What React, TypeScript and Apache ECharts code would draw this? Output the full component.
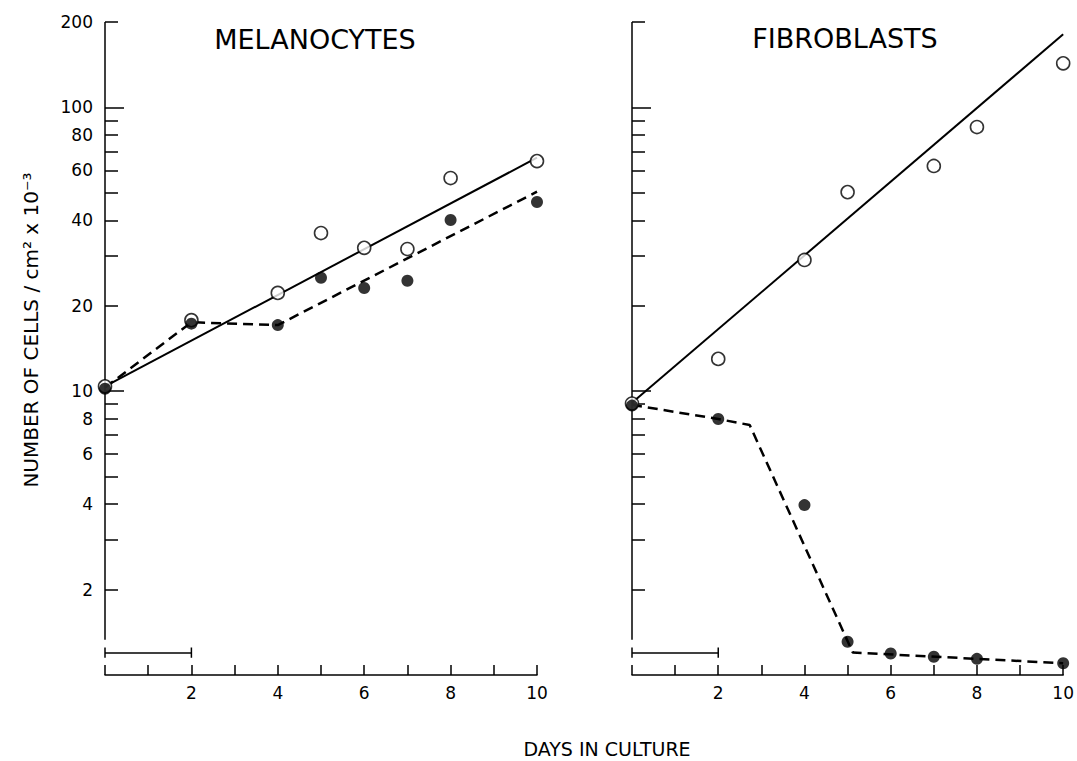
import { useEffect, useRef } from "react";
import * as echarts from "echarts";

// ---------- data ----------
const MEL_OPEN_DAYS = [0, 2, 4, 5, 6, 7, 8, 10];
const MEL_OPEN = [10.4, 17.8, 22.2, 36.1, 32.0, 31.7, 56.4, 64.7];
const MEL_FILLED_DAYS = [0, 2, 4, 5, 6, 7, 8, 10];
const MEL_FILLED = [10.2, 17.3, 17.1, 25.1, 23.1, 24.5, 40.1, 46.4];
const MEL_SOLID_DAYS = [0, 10];
const MEL_SOLID = [10.4, 66.5];
const MEL_DASHED_DAYS = [0, 2, 4, 10];
const MEL_DASHED = [10.3, 17.5, 17.1, 50.5];

const FIB_OPEN_DAYS = [0, 2, 4, 5, 7, 8, 10];
const FIB_OPEN = [9.05, 13.0, 29.0, 50.3, 62.2, 85.3, 143];
const FIB_FILLED_DAYS = [0, 2, 4, 5, 6, 7, 8, 10];
const FIB_FILLED = [8.9, 7.98, 3.97, 1.31, 1.19, 1.16, 1.14, 1.1];
const FIB_SOLID_DAYS = [0, 10];
const FIB_SOLID = [9.1, 181];
const FIB_DASHED_DAYS = [0, 2, 2.73, 5.12, 10];
const FIB_DASHED = [8.95, 7.98, 7.6, 1.2, 1.1];

const Y_LABELS = [2, 4, 6, 8, 10, 20, 40, 60, 80, 100, 200];
const Y_MINOR_TICKS = [2, 3, 4, 5, 6, 7, 8, 9, 20, 30, 40, 50, 60, 70, 80, 90, 200];
const Y_MAJOR_TICKS = [10, 100];
const X_LABELS = [2, 4, 6, 8, 10];

const Y_AXIS_LINE = [1.33, 200];
const SCALE_BAR_DAYS = [0, 2];
const SCALE_BAR_LEVEL = 1.195;
const SCALE_BAR_CAP = [1.25, 1.15];

const TITLES = ["MELANOCYTES", "FIBROBLASTS"];
const X_NAME = "DAYS IN CULTURE";
const Y_NAME = "NUMBER OF CELLS / cm² x 10⁻³";

const INK = "#000000";
const FONT = "DejaVu Sans";

const zip = (xs: number[], ys: number[]) => xs.map((x, i) => [x, ys[i]]);

function panelSeries(
  gi: number,
  open: number[][],
  filled: number[][],
  solid: number[][],
  dashed: number[][]
) {
  const xAxisIndex = gi;
  const yAxisIndex = gi * 2;
  const base = { xAxisIndex, yAxisIndex, silent: true, animation: false };
  const plain = (data: number[][]) => ({
    ...base,
    type: "line",
    data,
    symbol: "none",
    clip: false,
    lineStyle: { color: INK, width: 1.5 },
  });
  return [
    plain(Y_AXIS_LINE.map((v) => [0, v])),
    plain(SCALE_BAR_DAYS.map((d) => [d, SCALE_BAR_LEVEL])),
    plain(SCALE_BAR_CAP.map((v) => [SCALE_BAR_DAYS[0], v])),
    plain(SCALE_BAR_CAP.map((v) => [SCALE_BAR_DAYS[1], v])),
    {
      ...base,
      type: "line",
      data: solid,
      symbol: "none",
      lineStyle: { color: INK, width: 2 },
    },
    {
      ...base,
      type: "line",
      data: dashed,
      symbol: "none",
      lineStyle: { color: INK, width: 2.5, type: [10, 6] },
    },
    {
      ...base,
      type: "scatter",
      data: open,
      symbol: "circle",
      symbolSize: 13,
      itemStyle: { color: "#ffffff", borderColor: INK, borderWidth: 1.6 },
      z: 3,
    },
    {
      ...base,
      type: "scatter",
      data: filled,
      symbol: "circle",
      symbolSize: 12,
      itemStyle: { color: INK },
      z: 4,
    },
  ];
}

function yAxes(gi: number, withLabels: boolean) {
  const common = {
    type: "log",
    logBase: 10,
    min: 1,
    max: 200,
    gridIndex: gi,
    position: "left",
    axisLine: { show: false },
    splitLine: { show: false },
    minorTick: { show: false },
  };
  return [
    {
      ...common,
      axisTick: {
        show: true,
        inside: true,
        length: 13,
        customValues: Y_MINOR_TICKS,
        lineStyle: { color: INK, width: 1.5 },
      },
      axisLabel: withLabels
        ? {
            show: true,
            customValues: Y_LABELS,
            color: INK,
            fontFamily: FONT,
            fontSize: 17,
            margin: 12,
          }
        : { show: false },
    },
    {
      ...common,
      axisTick: {
        show: true,
        inside: true,
        length: 19,
        customValues: Y_MAJOR_TICKS,
        lineStyle: { color: INK, width: 1.5 },
      },
      axisLabel: { show: false },
    },
  ];
}

function xAxis(gi: number) {
  return {
    type: "value",
    gridIndex: gi,
    min: 0,
    max: 10,
    interval: 1,
    position: "bottom",
    axisLine: { show: true, lineStyle: { color: INK, width: 1.5 } },
    axisTick: { show: true, inside: true, length: 10, lineStyle: { color: INK, width: 1.5 } },
    splitLine: { show: false },
    axisLabel: {
      show: true,
      customValues: X_LABELS,
      color: INK,
      fontFamily: FONT,
      fontSize: 17,
      margin: 9,
    },
  };
}

export default function App() {
  const ref = useRef<HTMLDivElement>(null);
  useEffect(() => {
    if (!ref.current) return;
    const chart = echarts.init(ref.current, undefined, { renderer: "svg" });
    const option: any = {
      animation: false,
      backgroundColor: "#ffffff",
      grid: [
        { left: 105, top: 22, width: 432, height: 653 },
        { left: 632, top: 22, width: 433, height: 653 },
      ],
      xAxis: [xAxis(0), xAxis(1)],
      yAxis: [...yAxes(0, true), ...yAxes(1, false)],
      series: [
        ...panelSeries(
          0,
          zip(MEL_OPEN_DAYS, MEL_OPEN),
          zip(MEL_FILLED_DAYS, MEL_FILLED),
          zip(MEL_SOLID_DAYS, MEL_SOLID),
          zip(MEL_DASHED_DAYS, MEL_DASHED)
        ),
        ...panelSeries(
          1,
          zip(FIB_OPEN_DAYS, FIB_OPEN),
          zip(FIB_FILLED_DAYS, FIB_FILLED),
          zip(FIB_SOLID_DAYS, FIB_SOLID),
          zip(FIB_DASHED_DAYS, FIB_DASHED)
        ),
      ],
      graphic: [
        {
          type: "text",
          x: 315,
          y: 39,
          style: {
            text: TITLES[0],
            fill: INK,
            font: `27px "${FONT}"`,
            textAlign: "center",
            textVerticalAlign: "middle",
          },
        },
        {
          type: "text",
          x: 845,
          y: 38,
          style: {
            text: TITLES[1],
            fill: INK,
            font: `27px "${FONT}"`,
            textAlign: "center",
            textVerticalAlign: "middle",
          },
        },
        {
          type: "text",
          x: 607,
          y: 749,
          style: {
            text: X_NAME,
            fill: INK,
            font: `19px "${FONT}"`,
            textAlign: "center",
            textVerticalAlign: "middle",
          },
        },
        {
          type: "text",
          x: 31,
          y: 330,
          rotation: Math.PI / 2,
          style: {
            text: Y_NAME,
            fill: INK,
            font: `20px "${FONT}"`,
            textAlign: "center",
            textVerticalAlign: "middle",
          },
        },
      ],
    };
    chart.setOption(option);
    return () => chart.dispose();
  }, []);
  return (
    <div
      ref={ref}
      style={{ position: "absolute", left: 0, top: 0, width: 1077, height: 761 }}
    />
  );
}
